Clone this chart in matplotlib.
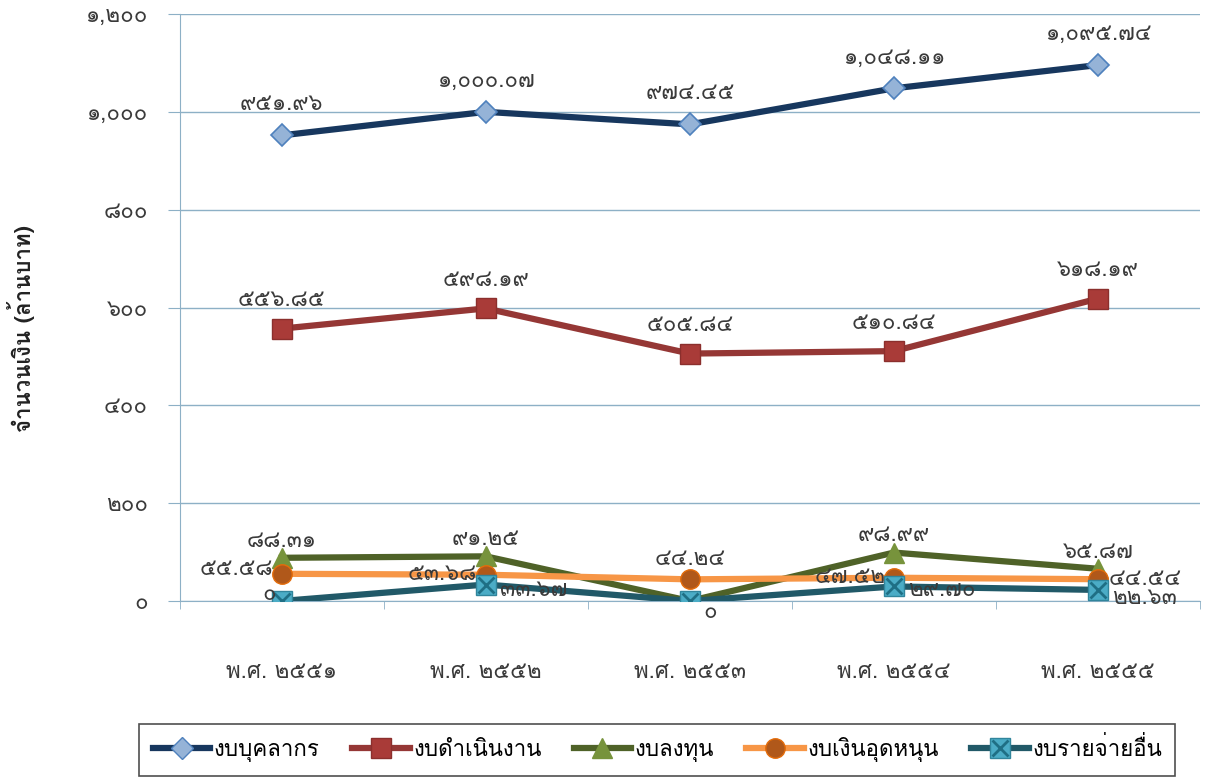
import matplotlib
matplotlib.use("Agg")
import matplotlib.pyplot as plt
import numpy as np
from matplotlib.legend_handler import HandlerTuple

plt.rcParams['font.family'] = ['Loma', 'DejaVu Sans']

# data (ล้านบาท)
years = ["พ.ศ. ๒๕๕๑", "พ.ศ. ๒๕๕๒", "พ.ศ. ๒๕๕๓", "พ.ศ. ๒๕๕๔", "พ.ศ. ๒๕๕๕"]
personnel = [951.96, 1000.07, 974.45, 1048.11, 1095.74]
operating = [556.85, 598.19, 505.84, 510.84, 618.19]
investment = [88.31, 91.25, 0, 98.99, 65.87]
subsidy = [55.58, 53.68, 44.24, 47.52, 44.54]
other = [0, 33.67, 0, 29.70, 22.63]
names = ["งบบุคลากร", "งบดำเนินงาน", "งบลงทุน", "งบเงินอุดหนุน", "งบรายจ่ายอื่น"]

THAI = str.maketrans("0123456789", "๐๑๒๓๔๕๖๗๘๙")


def thai_num(v, dec=2):
    if v == 0:
        return "0".translate(THAI)
    return f"{v:,.{dec}f}".translate(THAI)


fig = plt.figure(figsize=(12.06, 7.81), dpi=100)
ax = fig.add_axes([0.149, 0.2305, 0.846, 0.7515])
x = np.arange(len(years))

grid_c = "#8DB0C6"
txt_c = "#3A3A3A"

ax.plot(x, personnel, color="#17375E", lw=4.5, marker="D", ms=11,
        mfc="#95B3D7", mec="#4F81BD", mew=1.2, zorder=5)
ax.plot(x, operating, color="#953735", lw=4.5, marker="s", ms=14,
        mfc="#A93B38", mec="#8B2F2D", zorder=5)
ax.plot(x, investment, color="#4F6228", lw=4.5, marker="^", ms=14,
        mfc="#77933C", mec="#77933C", zorder=4)
ax.plot(x, subsidy, color="#F79646", lw=4.5, marker="o", ms=14,
        mfc="#B0581A", mec="#E46C0A", zorder=4)
ax.plot(x, other, color="#215968", lw=4.5, marker="s", ms=15,
        mfc="#4BACC6", mec="#31859C", zorder=6)
ax.plot(x, other, ls="none", marker="x", ms=11, mec="#1F6F85", mew=2, zorder=7)

# label offsets in points (dx, dy, ha)
offs = {
    0: [(0, 22, "center")] * 5,
    1: [(0, 20, "center")] * 5,
    2: [(0, 12, "center")] * 5,
    3: [(-6, 3, "right"), (-6, 0, "right"), (0, 14, "center"),
        (-6, 0, "right"), (8, 0, "left")],
    4: [(-4, 5, "right"), (10, -4, "left"), (10, -8, "left"),
        (10, -3, "left"), (10, -6, "left")],
}
series = [personnel, operating, investment, subsidy, other]
for si, vals in enumerate(series):
    for i, v in enumerate(vals):
        if si == 2 and v == 0:
            continue
        dx, dy, ha = offs[si][i]
        ax.annotate(thai_num(v), (x[i], v), xytext=(dx, dy),
                    textcoords="offset points", ha=ha, va="center",
                    fontsize=16, color=txt_c, zorder=8)

ax.set_xlim(-0.5, 4.5)
ax.set_ylim(0, 1200)
ax.set_yticks(np.arange(0, 1201, 200))
ax.set_yticklabels([thai_num(v, 0) for v in np.arange(0, 1201, 200)])
ax.set_xticks(x)
ax.set_xticklabels(years)
ax.set_xticks(np.arange(-0.5, 4.6, 1), minor=True)
ax.tick_params(axis="x", which="major", length=0, pad=44, labelsize=16,
               labelcolor=txt_c)
ax.tick_params(axis="x", which="minor", length=6, color=grid_c, direction="out")
ax.tick_params(axis="y", length=9, color=grid_c, pad=14, labelsize=16,
               labelcolor=txt_c)
ax.grid(axis="y", color=grid_c, lw=1)
ax.set_axisbelow(True)
for s in ["top", "right"]:
    ax.spines[s].set_visible(False)
ax.spines["left"].set_color(grid_c)
ax.spines["bottom"].set_color(grid_c)

fig.text(0.017, 0.58, "จำนวนเงิน (ล้านบาท)", rotation=90, fontsize=16,
         fontweight="bold", ha="center", va="center", color="#222222")

# legend
lw = 4.5
h = [
    plt.Line2D([], [], color="#17375E", lw=lw, marker="D", ms=11, mfc="#95B3D7", mec="#4F81BD"),
    plt.Line2D([], [], color="#953735", lw=lw, marker="s", ms=14, mfc="#A93B38", mec="#8B2F2D"),
    plt.Line2D([], [], color="#4F6228", lw=lw, marker="^", ms=14, mfc="#77933C", mec="#77933C"),
    plt.Line2D([], [], color="#F79646", lw=lw, marker="o", ms=14, mfc="#B0581A", mec="#E46C0A"),
    (plt.Line2D([], [], color="#215968", lw=lw, marker="s", ms=15, mfc="#4BACC6", mec="#31859C"),
     plt.Line2D([], [], ls="none", marker="x", ms=11, mec="#1F6F85", mew=2)),
]
leg = fig.legend(h, names, loc="center", bbox_to_anchor=(0.545, 0.04),
                 ncol=5, frameon=True, fancybox=False, edgecolor="#222222",
                 fontsize=16, handlelength=2.6, handletextpad=0.15,
                 columnspacing=1.45, borderpad=0.6,
                 handler_map={tuple: HandlerTuple(ndivide=1)})
leg.get_frame().set_linewidth(1.2)

fig.savefig("out.png")
